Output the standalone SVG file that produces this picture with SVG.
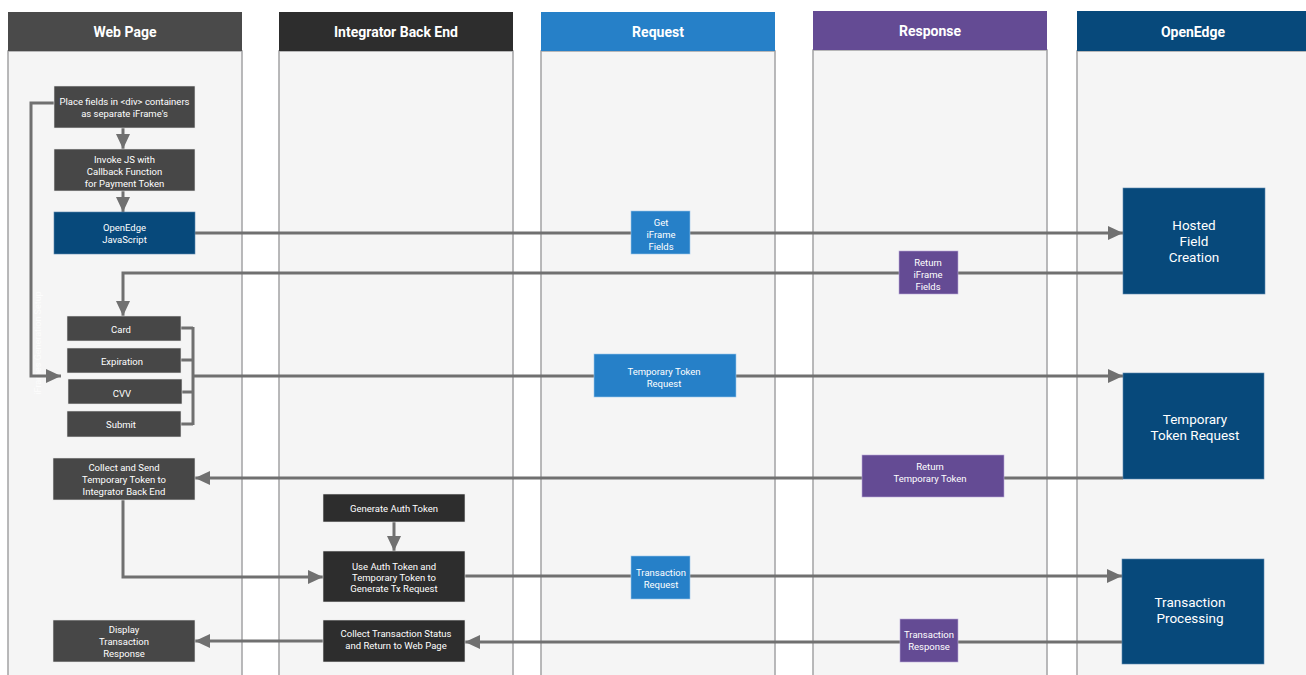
<svg xmlns="http://www.w3.org/2000/svg" width="1306" height="675" viewBox="0 0 1306 675">
<style>
  .lane{fill:#f5f5f5;stroke:#a2a2a4;stroke-width:1.5}
  .hd{font-family:Roboto,"Liberation Sans",sans-serif;font-size:14px;font-weight:bold;fill:#ffffff;text-anchor:middle;dominant-baseline:central}
  .t{font-family:Roboto,"Liberation Sans",sans-serif;font-size:9.5px;fill:#ffffff;text-anchor:middle;dominant-baseline:central}
  .tb{font-family:Roboto,"Liberation Sans",sans-serif;font-size:13.5px;fill:#ffffff;text-anchor:middle;dominant-baseline:central}
  .web{fill:#474747;stroke:#e6e6e6;stroke-width:0.6}
  .int{fill:#2d2d2d;stroke:#e6e6e6;stroke-width:0.6}
  .oe{fill:#07497b;stroke:#5b86ad;stroke-width:0.6}
  .req{fill:#2680c8;stroke:#9cc6ea;stroke-width:0.6}
  .res{fill:#644b94;stroke:#b9a9d8;stroke-width:0.6}
  .c{fill:none;stroke:#707070;stroke-width:3}
  .ca{fill:none;stroke:#707070;stroke-width:3;marker-end:url(#ah)}
</style>
<defs>
  <marker id="ah" markerUnits="userSpaceOnUse" markerWidth="16" markerHeight="16" refX="15" refY="8" orient="auto" viewBox="0 0 16 16">
    <path d="M0,1 L15,8 L0,15 z" fill="#707070"/>
  </marker>
</defs>
<rect width="1306" height="675" fill="#ffffff"/>
<g id="lanes">
  <rect class="lane" x="8" y="51" width="234" height="630"/>
  <rect x="8" y="12" width="234" height="39" fill="#4a4a4a"/>
  <text class="hd" x="125" y="32">Web Page</text>
  <rect class="lane" x="279" y="51" width="234" height="630"/>
  <rect x="279" y="12" width="234" height="39" fill="#2d2d2d"/>
  <text class="hd" x="396" y="32">Integrator Back End</text>
  <rect class="lane" x="541" y="51" width="234" height="630"/>
  <rect x="541" y="12" width="234" height="39" fill="#2680c8"/>
  <text class="hd" x="658" y="32">Request</text>
  <rect class="lane" x="813" y="50" width="234" height="631"/>
  <rect x="813" y="11" width="234" height="39" fill="#644b94"/>
  <text class="hd" x="930" y="31">Response</text>
  <rect class="lane" x="1077" y="51" width="240" height="630"/>
  <rect x="1077" y="11" width="240" height="40" fill="#07497b"/>
  <text class="hd" x="1193" y="32">OpenEdge</text>
  <text x="38" y="343" transform="rotate(-90 38 343)" font-family="Roboto,'Liberation Sans',sans-serif" font-size="9px" fill="#ffffff" fill-opacity="0.75" text-anchor="middle" dominant-baseline="central">iFrames Generation Setup</text>
</g>
<g id="connectors">
  <path class="ca" d="M195,233 L1123,233"/>
  <path class="ca" d="M1123,273 L123,273 L123,316"/>
  <path class="ca" d="M54,103 L31,103 L31,376 L61,376"/>
  <path class="c" d="M181,328 L193,328 M181,360 L193,360 M182,392 L193,392 M181,424 L193,424 M193,327 L193,425"/>
  <path class="ca" d="M193,376 L1123,376"/>
  <path class="ca" d="M1123,478 L195,478"/>
  <path class="ca" d="M123,500 L123,577 L323,577"/>
  <path class="ca" d="M394,522 L394,551"/>
  <path class="ca" d="M465,576 L1122,576"/>
  <path class="ca" d="M1122,642 L465,642"/>
  <path class="ca" d="M323,641 L195,641"/>
  <path class="ca" d="M123,128 L123,149"/>
  <path class="ca" d="M123,191 L123,212"/>
</g>
<g id="n-place">
  <rect class="web" x="54" y="86" width="141" height="42"/>
  <text class="t" x="124.5" y="101">Place fields in &lt;div&gt; containers</text>
  <text class="t" x="124.5" y="113">as separate iFrame's</text>
</g>
<g id="n-invoke">
  <rect class="web" x="54" y="149" width="141" height="42"/>
  <text class="t" x="124.5" y="159">Invoke JS with</text>
  <text class="t" x="124.5" y="171">Callback Function</text>
  <text class="t" x="124.5" y="183">for Payment Token</text>
</g>
<g id="n-oejs">
  <rect class="oe" x="54" y="212" width="141" height="42"/>
  <text class="t" x="124.5" y="227">OpenEdge</text>
  <text class="t" x="124.5" y="239">JavaScript</text>
</g>
<g id="n-card">
  <rect class="web" x="67" y="316" width="114" height="25"/>
  <text class="t" x="121" y="329">Card</text>
</g>
<g id="n-exp">
  <rect class="web" x="67" y="348" width="114" height="25"/>
  <text class="t" x="122" y="361">Expiration</text>
</g>
<g id="n-cvv">
  <rect class="web" x="68" y="379" width="114" height="25"/>
  <text class="t" x="122" y="393">CVV</text>
</g>
<g id="n-submit">
  <rect class="web" x="67" y="411" width="114" height="26"/>
  <text class="t" x="121" y="424">Submit</text>
</g>
<g id="n-collect">
  <rect class="web" x="53" y="458" width="142" height="42"/>
  <text class="t" x="124" y="467">Collect and Send</text>
  <text class="t" x="124" y="479">Temporary Token to</text>
  <text class="t" x="124" y="491">Integrator Back End</text>
</g>
<g id="n-display">
  <rect class="web" x="53" y="620" width="142" height="42"/>
  <text class="t" x="124" y="629">Display</text>
  <text class="t" x="124" y="641">Transaction</text>
  <text class="t" x="124" y="653">Response</text>
</g>
<g id="n-genauth">
  <rect class="int" x="323" y="494" width="142" height="28"/>
  <text class="t" x="394" y="508">Generate Auth Token</text>
</g>
<g id="n-useauth">
  <rect class="int" x="323" y="551" width="142" height="51"/>
  <text class="t" x="394" y="566">Use Auth Token and</text>
  <text class="t" x="394" y="577">Temporary Token to</text>
  <text class="t" x="394" y="588">Generate Tx Request</text>
</g>
<g id="n-collectstatus">
  <rect class="int" x="323" y="620" width="142" height="42"/>
  <text class="t" x="396" y="633">Collect Transaction Status</text>
  <text class="t" x="396" y="645">and Return to Web Page</text>
</g>
<g id="l-getiframe">
  <rect class="req" x="631" y="211" width="59" height="43"/>
  <text class="t" x="661" y="222">Get</text>
  <text class="t" x="661" y="234">iFrame</text>
  <text class="t" x="661" y="246">Fields</text>
</g>
<g id="l-tmpreq">
  <rect class="req" x="594" y="354" width="142" height="43"/>
  <text class="t" x="664" y="371">Temporary Token</text>
  <text class="t" x="664" y="383">Request</text>
</g>
<g id="l-txreq">
  <rect class="req" x="631" y="556" width="59" height="43"/>
  <text class="t" x="661" y="572">Transaction</text>
  <text class="t" x="661" y="584">Request</text>
</g>
<g id="l-retiframe">
  <rect class="res" x="899" y="251" width="59" height="43"/>
  <text class="t" x="928" y="262">Return</text>
  <text class="t" x="928" y="274">iFrame</text>
  <text class="t" x="928" y="286">Fields</text>
</g>
<g id="l-rettmp">
  <rect class="res" x="862" y="455" width="142" height="42"/>
  <text class="t" x="930" y="466">Return</text>
  <text class="t" x="930" y="478">Temporary Token</text>
</g>
<g id="l-txres">
  <rect class="res" x="900" y="619" width="58" height="43"/>
  <text class="t" x="929" y="634">Transaction</text>
  <text class="t" x="929" y="646">Response</text>
</g>
<g id="n-hosted">
  <rect class="oe" x="1123" y="188" width="142" height="106"/>
  <text class="tb" x="1194" y="225">Hosted</text>
  <text class="tb" x="1194" y="241">Field</text>
  <text class="tb" x="1194" y="257">Creation</text>
</g>
<g id="n-tmptoken">
  <rect class="oe" x="1123" y="373" width="141" height="106"/>
  <text class="tb" x="1195" y="419">Temporary</text>
  <text class="tb" x="1195" y="435">Token Request</text>
</g>
<g id="n-txproc">
  <rect class="oe" x="1122" y="559" width="142" height="105"/>
  <text class="tb" x="1190" y="602">Transaction</text>
  <text class="tb" x="1190" y="618">Processing</text>
</g>
</svg>
